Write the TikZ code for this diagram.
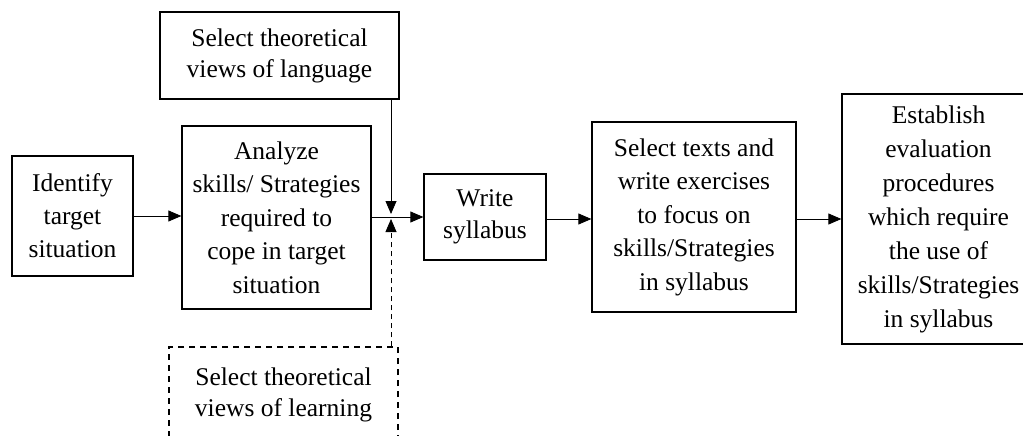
\documentclass[tikz,border=0pt]{standalone}
\usepackage{fontspec}
\setmainfont{Liberation Serif}
\usetikzlibrary{arrows.meta}
\begin{document}
\begin{tikzpicture}[x=1pt,y=-1pt,
  box/.style={draw=black, line width=1.3pt, align=center, inner sep=0pt},
  conn/.style={draw=black, line width=0.8pt},
  tip/.style={-{Triangle[length=13pt,width=11pt]}}]
\useasboundingbox (0,0) rectangle (1023,436);
\clip (0,0) rectangle (1023,436);
\node[box, minimum width=239pt, minimum height=87pt, font=\fontsize{25.5}{31}\selectfont] (lang) at (279.5,55.5)
  {Select theoretical\\views of language};
\node[box, minimum width=121pt, minimum height=120pt, font=\fontsize{25.5}{33}\selectfont] (ident) at (72.5,216)
  {Identify\\target\\situation};
\node[box, minimum width=189pt, minimum height=183pt, font=\fontsize{25.5}{33.5}\selectfont] (analyze) at (276.5,217.5)
  {Analyze\\skills/ Strategies\\required to\\cope in target\\situation};
\node[box, minimum width=122pt, minimum height=86pt, font=\fontsize{25.5}{32}\selectfont] (write) at (485,217)
  {Write\\syllabus};
\node[box, minimum width=204pt, minimum height=190pt, font=\fontsize{25.5}{33.5}\selectfont] (select) at (694,217)
  {Select texts and\\write exercises\\to focus on\\skills/Strategies\\in syllabus};
\node[box, minimum width=193pt, minimum height=250pt, font=\fontsize{25.5}{34}\selectfont] (estab) at (938.5,219)
  {Establish\\evaluation\\procedures\\which require\\the use of\\skills/Strategies\\in syllabus};
\node[box, dash pattern=on 6pt off 5pt, line width=1.2pt, minimum width=229pt, minimum height=96pt, font=\fontsize{25.5}{31}\selectfont] (learn) at (283.5,395)
  {Select theoretical\\views of learning};
\coordinate (J) at (391,217);
\draw[conn, tip] (ident.east) -- (analyze.west |- ident.east);
\draw[conn, tip] (analyze.east |- J) -- (write.west |- J);
\draw[conn, tip, shorten >=3pt] (lang.south -| J) -- (J);
\draw[conn, tip, dash pattern=on 5pt off 4pt, shorten >=2pt] (learn.north -| J) -- (J);
\draw[conn, tip] (write.east |- 0,219) -- (select.west |- 0,219);
\draw[conn, tip] (select.east |- 0,219) -- (estab.west |- 0,219);
\end{tikzpicture}
\end{document}
